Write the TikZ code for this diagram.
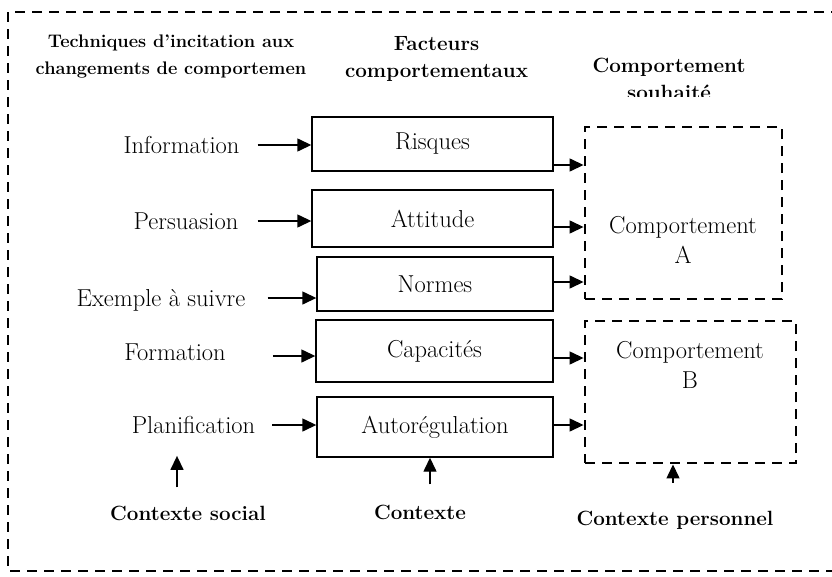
\documentclass[tikz,border=0pt]{standalone}
\usepackage{tikz}
\usetikzlibrary{arrows.meta}

\begin{document}
\begin{tikzpicture}[x=1pt, y=-1pt,
    lbl/.style={inner sep=0pt, font=\fontsize{24.5}{30}\selectfont},
    factbox/.style={draw, line width=1.4pt, inner sep=0pt, font=\fontsize{24.5}{30}\selectfont},
    dashbox/.style={draw, dash pattern=on 10pt off 7pt, line width=2.9pt},
    hdr/.style={inner sep=0pt, align=center, font=\bfseries\fontsize{20.6}{27.5}\selectfont},
    ctxlbl/.style={inner sep=0pt, font=\bfseries\fontsize{20.6}{24}\selectfont},
    arr/.style={-{Triangle[length=14pt,width=13pt]}, line width=1.4pt}]
    \clip (0,0) rectangle (832,576);
    % outer frame
    \draw[dashbox] (8,12) rectangle (860,571);

    % headers
    \node[hdr, font=\bfseries\fontsize{18.2}{27}\selectfont] (hdrTech) at (171,56.5) {Techniques d'incitation aux\\changements de comportemen};
    \node[hdr] (hdrFact) at (436.5,59) {Facteurs\\comportementaux};
    \begin{scope}
        \clip (560,30) rectangle (790,96);
        \node[hdr] (hdrComp) at (669,79) {Comportement\\souhaité};
    \end{scope}

    % techniques
    \node[lbl] (info) at (181.5,145) {Information};
    \node[lbl] (pers) at (186,221) {Persuasion};
    \node[lbl] (expl) at (161,300) {Exemple à suivre};
    \node[lbl] (form) at (175,352) {Formation};
    \node[lbl] (plan) at (193.5,425) {Planification};

    % facteurs
    \node[factbox, minimum width=241pt, minimum height=54pt] (risk) at (432.5,144) {Risques};
    \node[factbox, minimum width=241pt, minimum height=57pt] (attit) at (432.5,218.5) {Attitude};
    \node[factbox, minimum width=236pt, minimum height=54pt] (norm) at (435,284) {Normes};
    \node[factbox, minimum width=237pt, minimum height=62pt] (capa) at (434.5,351) {Capacités};
    \node[factbox, minimum width=236pt, minimum height=60pt] (autoreg) at (435,427) {Autorégulation};

    % comportements
    \node[dashbox, minimum width=197pt, minimum height=172pt] (compA) at (683.5,213) {};
    \node[lbl, align=center] (txtA) at (683,240) {Comportement\\A};
    \node[dashbox, minimum width=211pt, minimum height=142pt] (compB) at (690.5,392) {};
    \node[lbl, align=center] (txtB) at (690,365) {Comportement\\B};

    % contextes
    \node[ctxlbl] (ctxsoc) at (188,513) {Contexte social};
    \node[ctxlbl] (ctx) at (420,512) {Contexte};
    \node[ctxlbl] (ctxper) at (675,520) {Contexte personnel};

    % techniques -> facteurs
    \draw[arr, shorten <=18pt] (info.east) -- (info.east -| risk.west);
    \draw[arr, shorten <=19pt] (pers.east) -- (pers.east -| attit.west);
    \draw[arr, shorten <=22pt] ([yshift=2pt]expl.east) -- ([yshift=2pt]expl.east -| norm.west);
    \draw[arr, shorten <=47pt] ([yshift=-4pt]form.east) -- ([yshift=-4pt]form.east -| capa.west);
    \draw[arr, shorten <=17pt] (plan.east) -- (plan.east -| autoreg.west);

    % facteurs -> comportements
    \draw[arr] ([yshift=-21pt]risk.east) -- ([yshift=-21pt]risk.east -| compA.west);
    \draw[arr] ([yshift=-8.5pt]attit.east) -- ([yshift=-8.5pt]attit.east -| compA.west);
    \draw[arr] ([yshift=2pt]norm.east) -- ([yshift=2pt]norm.east -| compA.west);
    \draw[arr] ([yshift=-7pt]capa.east) -- ([yshift=-7pt]capa.east -| compB.west);
    \draw[arr] ([yshift=2pt]autoreg.east) -- ([yshift=2pt]autoreg.east -| compB.west);

    % contextes
    \draw[arr, shorten >=22pt] ([xshift=-11pt,yshift=18pt]ctxsoc.north) -- ([xshift=-11pt]ctxsoc.north |- plan.south);
    \draw[arr] ([xshift=10pt,yshift=20pt]ctx.north) -- ([xshift=10pt]ctx.north |- autoreg.south);
    \draw[arr] ([xshift=-2pt,yshift=28pt]ctxper.north) -- ([xshift=-2pt]ctxper.north |- compB.south);
\end{tikzpicture}
\end{document}
